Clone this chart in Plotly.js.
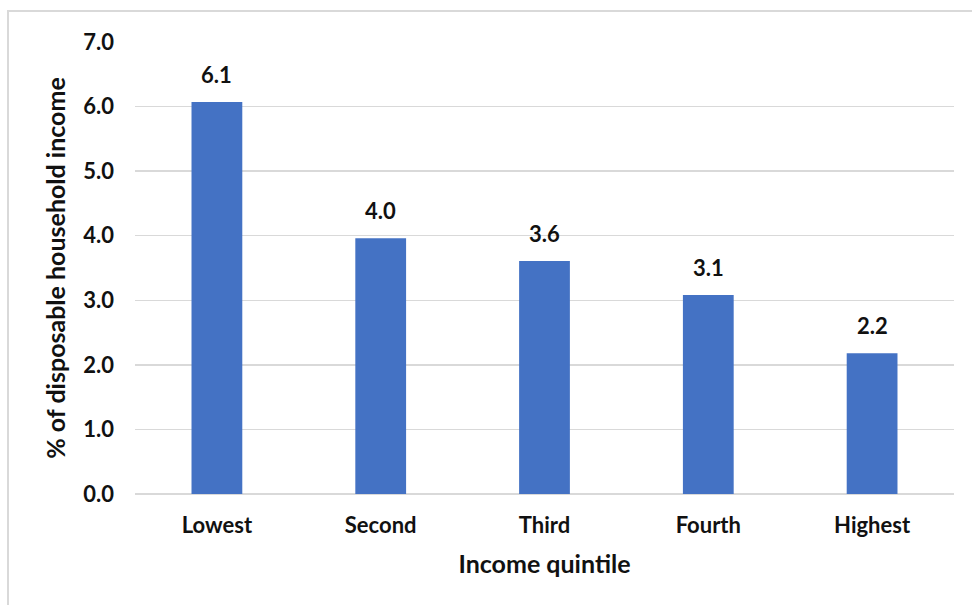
<!DOCTYPE html>
<html>
<head>
<meta charset="utf-8">
<script src="https://cdn.plot.ly/plotly-3.0.1.min.js"></script>
<style>
html,body{margin:0;padding:0;background:#fff;}
#chart{width:972px;height:605px;}
</style>
</head>
<body>
<div id="chart"></div>
<script>
const categories = ["Lowest", "Second", "Third", "Fourth", "Highest"];
const values = [6.07, 3.96, 3.61, 3.08, 2.18];
const yTicks = [0, 1, 2, 3, 4, 5, 6, 7];
const yTickLabels = yTicks.map(v => v.toFixed(1));
const xTitle = "Income quintile";
const yTitle = "% of disposable household income";

const FONT = "Lato, 'Open Sans', sans-serif";
const barColor = "#4472C4";

const trace = {
  type: "bar",
  x: categories,
  y: values,
  marker: {color: barColor},
  width: 0.31,
  hoverinfo: "none"
};

const annotations = categories.map((c, i) => ({
  x: c, y: values[i], xref: "x", yref: "y",
  text: "<b>" + values[i].toFixed(1) + "</b>",
  showarrow: false, yanchor: "bottom", yshift: 12,
  font: {family: FONT, size: 22, color: "#111111"}
}));

const layout = {
  width: 972, height: 605,
  margin: {l: 135, r: 18, t: 42, b: 111},
  paper_bgcolor: "#fff", plot_bgcolor: "#fff",
  showlegend: false,
  bargap: 0.69,
  font: {family: FONT, color: "#111111"},
  xaxis: {
    type: "category",
    showgrid: false, zeroline: false, showline: false,
    ticks: "", ticklabelstandoff: 16,
    tickfont: {family: FONT, size: 22, color: "#111111", weight: "bold"},
    title: {text: xTitle, standoff: 18, font: {family: FONT, size: 25, color: "#111111", weight: "bold"}}
  },
  yaxis: {
    range: [0, 7], tickvals: yTicks, ticktext: yTickLabels,
    showgrid: true, gridcolor: "#d9d9d9", gridwidth: 1.5,
    zeroline: true, zerolinecolor: "#d9d9d9", zerolinewidth: 1.5,
    showline: false, ticks: "", ticklabelstandoff: 20,
    tickfont: {family: FONT, size: 22, color: "#111111", weight: "bold"},
    title: {text: yTitle, standoff: 10, font: {family: FONT, size: 25, color: "#111111", weight: "bold"}}
  },
  annotations: annotations,
  shapes: [{
    type: "rect", xref: "paper", yref: "paper",
    x0: (8 - 135) / 819, x1: 1.05, y0: -0.4, y1: (494 - 11) / 452,
    line: {color: "#d9d9d9", width: 2}, fillcolor: "rgba(0,0,0,0)", layer: "below"
  }]
};

Plotly.newPlot("chart", [trace], layout, {displayModeBar: false, staticPlot: true});
</script>
</body>
</html>
